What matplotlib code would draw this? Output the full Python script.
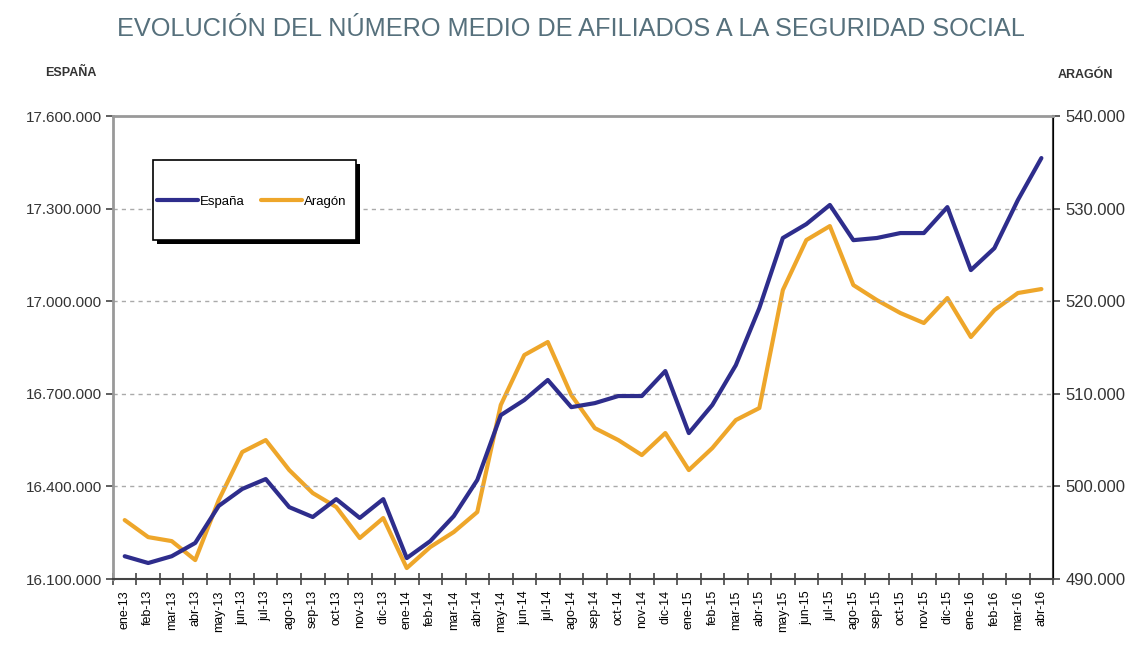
import matplotlib
matplotlib.use('Agg')
import matplotlib.pyplot as plt
import matplotlib.ticker as mticker
from matplotlib.patches import Rectangle
import numpy as np

plt.rcParams['font.family'] = ['Liberation Sans', 'DejaVu Sans']

months = ['ene', 'feb', 'mar', 'abr', 'may', 'jun', 'jul', 'ago', 'sep', 'oct', 'nov', 'dic']
labels = [f'{m}-{y}' for y in ['13', '14', '15'] for m in months] + ['ene-16', 'feb-16', 'mar-16', 'abr-16']

espana = [16174000, 16152000, 16174000, 16217000, 16337000, 16392000, 16424000, 16333000,
          16301000, 16359000, 16298000, 16359000, 16168000, 16223000, 16304000, 16421000,
          16631000, 16680000, 16745000, 16657000, 16670000, 16693000, 16693000, 16774000,
          16573000, 16664000, 16793000, 16978000, 17205000, 17250000, 17312000, 17198000,
          17205000, 17221000, 17221000, 17305000, 17101000, 17172000, 17328000, 17464000]
aragon = [496370, 494530, 494100, 492050, 498530, 503720, 505010, 501770,
          499290, 497780, 494430, 496590, 491190, 493460, 495080, 497240,
          508800, 514190, 515600, 509870, 506300, 505010, 503390, 505770,
          501770, 504150, 507170, 508470, 521210, 526610, 528120, 521750,
          520130, 518730, 517650, 520350, 516140, 519050, 520890, 521320]

esp_ticks = [16100000, 16400000, 16700000, 17000000, 17300000, 17600000]
ara_ticks = [490000, 500000, 510000, 520000, 530000, 540000]

c_esp = '#2e2d8c'
c_ara = '#eea62a'
fs = 10.5


def miles(v, pos):
    return f'{v:,.0f}'.replace(',', '.')


fig = plt.figure(figsize=(11.41, 6.47), dpi=100)
ax = fig.add_axes([0.099, 0.105, 0.824, 0.7156])
ax2 = ax.twinx()

x = np.arange(len(labels))
ax.plot(x, espana, c=c_esp, lw=3, solid_joinstyle='round', solid_capstyle='round', label='España', zorder=3)
ax2.plot(x, aragon, c=c_ara, lw=3, solid_joinstyle='round', solid_capstyle='round', label='Aragón', zorder=2)
ax.set_zorder(ax2.get_zorder() + 1)
ax.patch.set_visible(False)

ax.set_xlim(-0.5, len(labels) - 0.5)
ax.set_ylim(esp_ticks[0], esp_ticks[-1])
ax2.set_ylim(ara_ticks[0], ara_ticks[-1])
ax.set_yticks(esp_ticks)
ax2.set_yticks(ara_ticks)
ax.yaxis.set_major_formatter(mticker.FuncFormatter(miles))
ax2.yaxis.set_major_formatter(mticker.FuncFormatter(miles))

for v in esp_ticks[1:-1]:
    ax.axhline(v, c='#aaaaaa', ls=(0, (3, 3)), lw=1, zorder=1)

ax.set_xticks(x)
ax.set_xticklabels(labels, rotation=90, fontsize=fs - 1.5)
ax.set_xticks(np.arange(len(labels) + 1) - 0.5, minor=True)
ax.tick_params(axis='x', which='major', length=0, pad=8)
ax.tick_params(axis='x', which='minor', direction='inout', length=8, width=1.2, color='#444444')
ax.tick_params(axis='y', direction='out', length=5, width=1.2, color='#444444', labelsize=fs + 0.5,
               labelcolor='#333333', pad=3)
ax2.tick_params(axis='y', direction='out', length=5, width=1.2, color='#444444', labelsize=fs + 1.5,
                labelcolor='#333333', pad=4)

for s in ['left', 'top']:
    ax.spines[s].set_color('#999999')
    ax.spines[s].set_linewidth(2)
ax.spines['bottom'].set_color('#444444')
ax.spines['bottom'].set_linewidth(1.5)
ax2.spines['right'].set_color('#444444')
ax2.spines['right'].set_linewidth(1.5)
for s in ['left', 'top', 'bottom']:
    ax2.spines[s].set_visible(False)

# legend box with shadow, like the spreadsheet one
ax.add_patch(Rectangle((0.047, 0.724), 0.216, 0.173, transform=ax.transAxes, fc='black', ec='none',
                       zorder=4, clip_on=False))
ax.add_patch(Rectangle((0.043, 0.732), 0.216, 0.173, transform=ax.transAxes, fc='white', ec='black',
                       lw=1.2, zorder=5, clip_on=False))
h1, l1 = ax.get_legend_handles_labels()
h2, l2 = ax2.get_legend_handles_labels()
leg = ax.legend(h1 + h2, l1 + l2, loc='center left', bbox_to_anchor=(0.045, 0.8145), ncol=2,
                fontsize=fs - 1, frameon=False, borderpad=0, borderaxespad=0.15,
                handlelength=3.1, handletextpad=0.1, columnspacing=1.3)
leg.set_zorder(6)

fig.text(0.5, 0.955, 'EVOLUCIÓN DEL NÚMERO MEDIO DE AFILIADOS A LA SEGURIDAD SOCIAL',
         ha='center', va='center', fontsize=18.2, color='#56707c')
fig.text(0.062, 0.887, 'ESPAÑA', ha='center', va='center', fontsize=fs - 1.5, color='#333333',
         weight='bold')
fig.text(0.951, 0.884, 'ARAGÓN', ha='center', va='center', fontsize=fs - 1.5, color='#333333',
         weight='bold')

fig.savefig('out.png', dpi=100)
